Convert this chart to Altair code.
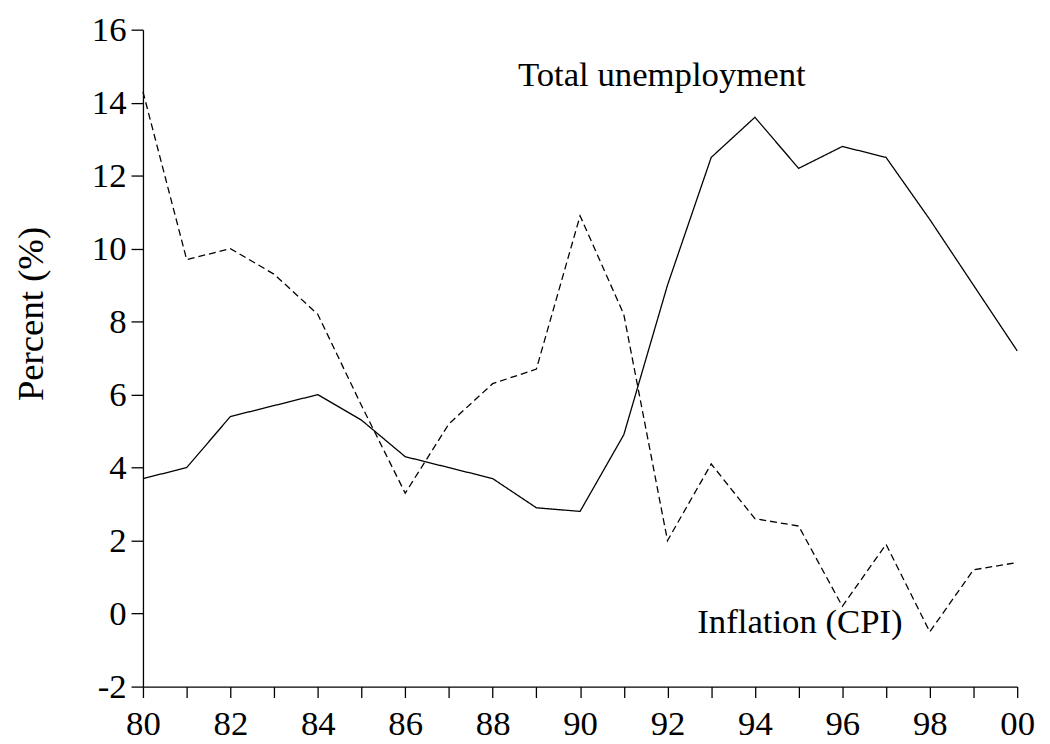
import altair as alt
import pandas as pd

years = list(range(1980, 2001))
unemployment = [3.7, 4.0, 5.4, 5.7, 6.0, 5.3, 4.3, 4.0, 3.7, 2.9, 2.8,
                4.9, 9.0, 12.5, 13.6, 12.2, 12.8, 12.5, 10.8, 9.0, 7.2]
inflation = [14.3, 9.7, 10.0, 9.3, 8.2, 5.7, 3.3, 5.2, 6.3, 6.7, 10.9,
             8.2, 2.0, 4.1, 2.6, 2.4, 0.2, 1.9, -0.5, 1.2, 1.4]
series_names = ["Total unemployment", "Inflation (CPI)"]
label_x = [1991.87, 1995.03]
label_y = [14.46, -0.53]
y_ticks = list(range(-2, 17, 2))

rows = []
for i, yr in enumerate(years):
    rows.append({"year": yr, "value": unemployment[i], "series": series_names[0]})
    rows.append({"year": yr, "value": inflation[i], "series": series_names[1]})
df = pd.DataFrame(rows)
labels = pd.DataFrame({"text": series_names, "x": label_x, "y": label_y})

FONT = "Liberation Serif"

xscale = alt.Scale(domain=[1980, 2000], nice=False, zero=False)
yscale = alt.Scale(domain=[-2, 16], nice=False, zero=False)

lines = alt.Chart(df).mark_line(color="black", strokeWidth=1.3).encode(
    x=alt.X("year:Q", scale=xscale,
            axis=alt.Axis(values=years, title=None, grid=False,
                          labelExpr="datum.value % 2 == 0 ? slice(toString(datum.value), 2) : ''",
                          tickSize=11, labelPadding=37, labelBaseline="alphabetic",
                          labelFlush=False, labelOverlap=False)),
    y=alt.Y("value:Q", scale=yscale,
            axis=alt.Axis(values=y_ticks, title="Percent (%)", grid=False,
                          labelExpr="toString(datum.value)",
                          tickSize=12, labelPadding=5,
                          titleX=-101, titleY=286, titleAlign="center",
                          titleBaseline="alphabetic", titleAngle=270,
                          titleFontSize=37)),
    strokeDash=alt.StrokeDash("series:N",
                              scale=alt.Scale(domain=series_names, range=[[1, 0], [7, 4]]),
                              legend=None),
    detail="series:N",
)

texts = alt.Chart(labels).mark_text(
    font=FONT, fontSize=35, color="black", align="center", baseline="alphabetic"
).encode(
    x=alt.X("x:Q", scale=xscale),
    y=alt.Y("y:Q", scale=yscale),
    text="text:N",
)

chart = alt.layer(lines, texts).properties(
    width=881, height=662,
    autosize=alt.AutoSizeParams(type="none"),
    padding={"left": 136, "top": 19, "right": 25, "bottom": 55},
).configure_view(stroke=None).configure_axis(
    labelFont=FONT, labelFontSize=35, labelColor="black",
    titleFont=FONT, titleColor="black", titleFontWeight="normal",
    domainColor="black", domainWidth=1.3, tickColor="black", tickWidth=1.3,
)

chart.save("out.html", embed_options={"renderer": "svg", "actions": False})
